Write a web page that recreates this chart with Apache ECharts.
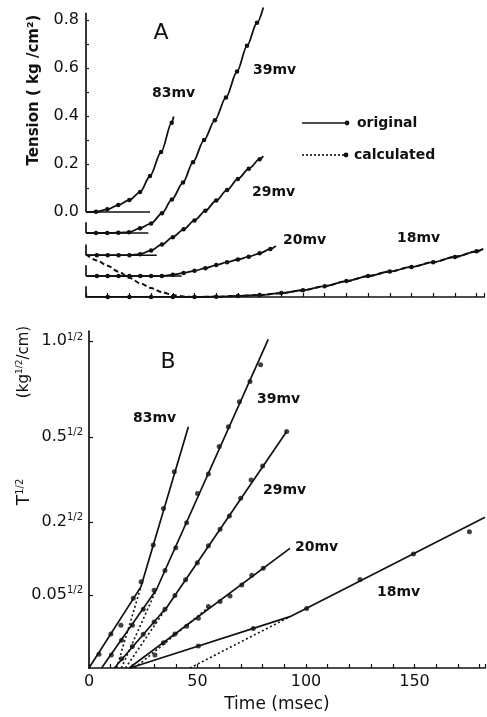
<!DOCTYPE html>
<html><head><meta charset="utf-8">
<script src="https://cdn.jsdelivr.net/npm/echarts@6/dist/echarts.min.js"></script>
<style>html,body{margin:0;padding:0;background:#fff}#c{width:487px;height:717px}</style>
</head><body><div id="c"></div>
<script>
// ---------- Panel A: tension (kg/cm2) vs time (msec) ----------
const mvLabels = ['83mv','39mv','29mv','20mv','18mv'];
const baselineA = [0, -0.0875, -0.18, -0.267, -0.354];   // staggered zero lines
const baselineEndA = [29.5, 28.7, 32.6, 44.1];            // length of drawn zero lines (ms)
const axisTopA = 0.83;                                    // top of the tension scale
const stubA = 0.045;                                      // short axis stubs above shifted zero lines

const a83T = [0,4.6,9.8,14.9,20,24.9,29.5,34.6,39.5,40.4];
const a83V = [0,0.001,0.011,0.029,0.05,0.083,0.15,0.25,0.372,0.398];
const a39T = [0,4.6,9.8,14.9,19.8,24.9,30,35,39.6,44.7,49.3,54.4,59.4,64.5,69.6,74.2,78.8,81.7];
const a39V = [0,0,0,0.001,0.003,0.02,0.04,0.082,0.14,0.21,0.295,0.387,0.47,0.565,0.673,0.78,0.876,0.94];
const a29T = [0,5,10,15,20,25,30,35,40,45,50,55,60,65,70,75,80,81.7];
const a29V = [0,0,0,0,0,0.004,0.02,0.045,0.075,0.108,0.145,0.185,0.228,0.272,0.318,0.36,0.40,0.413];
const a20T = [0,5,10,15,20,25,30,35,40,45,50,55,60,65,70,75,80,85,87.5];
const a20V = [0,0,0,0,0,0,0,0,0.006,0.013,0.022,0.033,0.046,0.058,0.069,0.081,0.095,0.113,0.126];
const a18T = [0,10,20,30,40,50,60,70,80,90,100,110,120,130,140,150,160,170,180,183];
const a18V = [0,0,0,0,0,0,0.001,0.004,0.008,0.016,0.028,0.045,0.066,0.087,0.106,0.125,0.145,0.167,0.19,0.2];
const a18CalcT = [0,5,10,15,20,25,30,35,40,45,50,60,70,80,90,100,110,120,130,140,150,160,170,180,183];
const a18CalcV = [0.178,0.152,0.13,0.105,0.08,0.057,0.037,0.02,0.008,0.002,0,0.001,0.004,0.008,0.016,0.028,0.045,0.066,0.087,0.106,0.125,0.145,0.167,0.19,0.2];
const tickValsA = [0,0.2,0.4,0.6,0.8];
const tickLabelsA = ['0.0','0.2','0.4','0.6','0.8'];
const minorTicksA = [0,0.1,0.2,0.3,0.4,0.5,0.6,0.7,0.8];

// ---------- Panel B: T^1/2 vs time (msec) ----------
const b83LineT = [0,23.9,45.8],      b83LineV = [0,0.248,0.738];
const b83DotT = [4.6,10.1,14.7,20.4,24,29.6,34.3,39.3];
const b83DotV = [0.042,0.104,0.131,0.213,0.264,0.376,0.488,0.6];
const b83CalcT = [12.7,23.9],        b83CalcV = [0,0.248];
const b39LineT = [5.8,31.1,82.6],    b39LineV = [0,0.24,1.005];
const b39DotT = [10.3,15,20,25,30,35,40,45,50,55,60,64.2,69.3,74.2,79.1];
const b39DotV = [0.04,0.085,0.131,0.18,0.238,0.298,0.368,0.444,0.534,0.593,0.677,0.738,0.814,0.876,0.927];
const b39CalcT = [14.9,31.1],        b39CalcV = [0,0.24];
const b29LineT = [11.7,36.2,91.1],   b29LineV = [0,0.189,0.723];
const b29DotT = [15,20,25,30,35,39.6,44.5,49.9,55,60.4,64.7,69.9,74.7,80,91.1];
const b29DotV = [0.028,0.066,0.103,0.141,0.18,0.222,0.27,0.322,0.374,0.424,0.465,0.519,0.575,0.618,0.723];
const b29CalcT = [16.8,36.2],        b29CalcV = [0,0.189];
const b20LineT = [18.5,92.6],        b20LineV = [0,0.366];
const b20DotT = [34.3,39.6,45,50.4,55,60.4,65,70.4,75,80.3];
const b20DotV = [0.077,0.104,0.128,0.152,0.188,0.203,0.22,0.254,0.284,0.305];
const b20CalcT = [21,55],            b20CalcV = [0,0.185];
const b18LineT = [18.9,92.6,182.5],  b18LineV = [0,0.157,0.461];
const b18DotT = [30.4,50.4,75.7,100.3,124.9,149.5,175.3];
const b18DotV = [0.04,0.067,0.121,0.182,0.271,0.349,0.417];
const b18CalcT = [46.5,92.6],        b18CalcV = [0,0.157];
const tickTB = [0.05,0.2,0.5,1.0];               // tension values of the ticks
const tickLabelsB = ['0.05','0.2','0.5','1.0'];
const tickPosB = tickTB.map(Math.sqrt);           // plotted as T^1/2
const xLabelsB = [0,50,100,150];

const INK = '#111';
const FONT = 'DejaVu Sans';

function pairs(ts, vs, off) {
  off = off || 0;
  return ts.map((t, i) => [t, +(vs[i] + off).toFixed(4)]);
}
function curveData(ts, vs, off) {
  const p = pairs(ts, vs, off);
  return p.map((d, i) => (i === 0 || i === p.length - 1) ? {value: d, symbol: 'none'} : d);
}

const series = [];
// panel A vertical axis: main part above the 0.0 line, then short stubs at each shifted zero line
series.push({type: 'line', xAxisIndex: 0, yAxisIndex: 0, data: [[0, baselineA[0]], [0, axisTopA]],
  symbol: 'none', lineStyle: {color: INK, width: 1.7}, clip: false, z: 2});
for (let i = 1; i < 5; i++) {
  series.push({type: 'line', xAxisIndex: 0, yAxisIndex: 0, data: [[0, baselineA[i]], [0, baselineA[i] + stubA]],
    symbol: 'none', lineStyle: {color: INK, width: 1.7}, clip: false, z: 2});
}
const aT = [a83T, a39T, a29T, a20T, a18T];
const aV = [a83V, a39V, a29V, a20V, a18V];
for (let i = 0; i < 5; i++) {
  series.push({
    type: 'line', xAxisIndex: 0, yAxisIndex: 0, name: mvLabels[i] + ' A',
    data: curveData(aT[i], aV[i], baselineA[i]),
    smooth: 0.3, smoothMonotone: 'x', symbol: 'circle', symbolSize: 4.5,
    itemStyle: {color: INK}, lineStyle: {color: INK, width: 1.8}, clip: false, z: 3
  });
}
for (let i = 0; i < 4; i++) {
  series.push({
    type: 'line', xAxisIndex: 0, yAxisIndex: 0,
    data: [[0, baselineA[i]], [baselineEndA[i], baselineA[i]]],
    symbol: 'none', lineStyle: {color: INK, width: 1.5}, z: 2
  });
}
series.push({
  type: 'line', xAxisIndex: 0, yAxisIndex: 0, name: '18mv calc A',
  data: pairs(a18CalcT, a18CalcV, baselineA[4]),
  smooth: 0.3, smoothMonotone: 'x', symbol: 'none',
  lineStyle: {color: INK, width: 2, type: [5, 3]}, clip: false, z: 3
});

const bLine = [[b83LineT,b83LineV],[b39LineT,b39LineV],[b29LineT,b29LineV],[b20LineT,b20LineV],[b18LineT,b18LineV]];
const bDot = [[b83DotT,b83DotV],[b39DotT,b39DotV],[b29DotT,b29DotV],[b20DotT,b20DotV],[b18DotT,b18DotV]];
const bCalc = [[b83CalcT,b83CalcV],[b39CalcT,b39CalcV],[b29CalcT,b29CalcV],[b20CalcT,b20CalcV],[b18CalcT,b18CalcV]];
for (let i = 0; i < 5; i++) {
  series.push({
    type: 'line', xAxisIndex: 1, yAxisIndex: 1, data: pairs(bLine[i][0], bLine[i][1]),
    symbol: 'none', lineStyle: {color: INK, width: 1.7}, clip: false, z: 3
  });
  series.push({
    type: 'scatter', xAxisIndex: 1, yAxisIndex: 1, data: pairs(bDot[i][0], bDot[i][1]),
    symbol: 'circle', symbolSize: 5, itemStyle: {color: INK}, clip: false, z: 4
  });
  series.push({
    type: 'line', xAxisIndex: 1, yAxisIndex: 1, data: pairs(bCalc[i][0], bCalc[i][1]),
    symbol: 'none', lineStyle: {color: INK, width: 1.6, type: [2, 2.5]}, clip: false, z: 3
  });
}

const txt = (x, y, text, size, extra) => ({
  type: 'text', x: x, y: y, silent: true,
  style: {text: text, fill: INK, font: (extra && extra.weight ? extra.weight + ' ' : '') + size + 'px "' + FONT + '"',
          align: (extra && extra.align) || 'left', verticalAlign: 'middle'}
});

const graphics = [
  txt(161, 33, 'A', 22, {align: 'center'}),
  txt(168, 362, 'B', 22, {align: 'center'}),
  // panel A curve labels
  txt(152, 93, mvLabels[0], 14, {weight: 'bold'}),
  txt(253, 70, mvLabels[1], 14, {weight: 'bold'}),
  txt(252, 192, mvLabels[2], 14, {weight: 'bold'}),
  txt(283, 240, mvLabels[3], 14, {weight: 'bold'}),
  txt(397, 238, mvLabels[4], 14, {weight: 'bold'}),
  // panel B curve labels
  txt(133, 418, mvLabels[0], 14, {weight: 'bold'}),
  txt(257, 399, mvLabels[1], 14, {weight: 'bold'}),
  txt(263, 490, mvLabels[2], 14, {weight: 'bold'}),
  txt(295, 547, mvLabels[3], 14, {weight: 'bold'}),
  txt(377, 592, mvLabels[4], 14, {weight: 'bold'}),
  // legend
  {type: 'line', silent: true, shape: {x1: 302, y1: 123, x2: 346, y2: 123}, style: {stroke: INK, lineWidth: 1.7}},
  {type: 'circle', silent: true, shape: {cx: 347, cy: 123, r: 2.4}, style: {fill: INK}},
  txt(357, 123, 'original', 14, {weight: 'bold'}),
  {type: 'line', silent: true, shape: {x1: 302, y1: 155, x2: 345, y2: 155}, style: {stroke: INK, lineWidth: 1.6, lineDash: [2, 2]}},
  {type: 'circle', silent: true, shape: {cx: 346, cy: 155, r: 2.4}, style: {fill: INK}},
  txt(354, 155, 'calculated', 14, {weight: 'bold'}),
  // axis titles
  {type: 'text', silent: true, x: 34, y: 90, rotation: Math.PI / 2,
   style: {text: 'Tension ( kg /cm²)', fill: INK, font: 'bold 15px "' + FONT + '"', align: 'center', verticalAlign: 'middle'}},
  {type: 'text', silent: true, x: 24, y: 362, rotation: Math.PI / 2,
   style: {text: '{n|(kg}{s|1/2}{n|/cm)}', align: 'center', verticalAlign: 'middle',
           rich: {n: {fontSize: 15, fontFamily: FONT, fill: INK, color: INK, lineHeight: 18},
                  s: {fontSize: 9, fontFamily: FONT, fill: INK, color: INK, verticalAlign: 'top', lineHeight: 9}}}},
  {type: 'text', silent: true, x: 25, y: 492, rotation: Math.PI / 2,
   style: {text: '{n|T}{s|1/2}', align: 'center', verticalAlign: 'middle',
           rich: {n: {fontSize: 17, fontFamily: FONT, fill: INK, color: INK, lineHeight: 20},
                  s: {fontSize: 10, fontFamily: FONT, fill: INK, color: INK, verticalAlign: 'top', lineHeight: 10}}}},
  txt(277, 705, 'Time (msec)', 17, {align: 'center'})
];

const axisLineStyle = {color: INK, width: 1.7};
const option = {
  backgroundColor: '#fff',
  animation: false,
  grid: [
    {left: 86, top: 12.8, width: 183.5 * 2.17, height: (axisTopA - baselineA[4]) * 240},
    {left: 89, top: 668 - 1.03 * 327, width: 182.5 * 2.17, height: 1.03 * 327}
  ],
  xAxis: [
    {gridIndex: 0, type: 'value', min: 0, max: 183.5, interval: 10,
     axisLine: {onZero: false, lineStyle: axisLineStyle},
     axisTick: {inside: true, length: 4, lineStyle: {color: INK, width: 1.2}},
     axisLabel: {show: false}, splitLine: {show: false}},
    {gridIndex: 1, type: 'value', min: 0, max: 182.5, interval: 10,
     axisLine: {onZero: false, lineStyle: axisLineStyle},
     axisTick: {inside: true, length: 4, lineStyle: {color: INK, width: 1.2}},
     axisLabel: {customValues: xLabelsB, color: INK, fontFamily: FONT, fontSize: 16, margin: 6},
     splitLine: {show: false}}
  ],
  yAxis: [
    {gridIndex: 0, type: 'value', min: baselineA[4], max: axisTopA,
     axisLine: {show: false},
     axisTick: {customValues: minorTicksA, inside: true, length: 3, lineStyle: {color: INK, width: 1.2}},
     axisLabel: {customValues: tickValsA, color: INK, fontFamily: FONT, fontSize: 16, margin: 7,
                 formatter: v => tickLabelsA[tickValsA.findIndex(p => Math.abs(p - v) < 1e-6)]},
     splitLine: {show: false}},
    {gridIndex: 1, type: 'value', min: 0, max: 1.03,
     axisLine: {onZero: false, lineStyle: axisLineStyle},
     axisTick: {customValues: tickPosB, inside: true, length: 4, lineStyle: {color: INK, width: 1.2}},
     axisLabel: {customValues: tickPosB, margin: 6,
                 formatter: v => '{n|' + tickLabelsB[tickPosB.findIndex(p => Math.abs(p - v) < 1e-6)] + '}{s|1/2}',
                 rich: {n: {fontSize: 16, fontFamily: FONT, color: INK, lineHeight: 18},
                        s: {fontSize: 10, fontFamily: FONT, color: INK, verticalAlign: 'top', lineHeight: 10}}},
     splitLine: {show: false}}
  ],
  graphic: graphics,
  series: series
};
const chart = echarts.init(document.getElementById('c'), null, {renderer: 'canvas'});
chart.setOption(option);
</script>
</body></html>
